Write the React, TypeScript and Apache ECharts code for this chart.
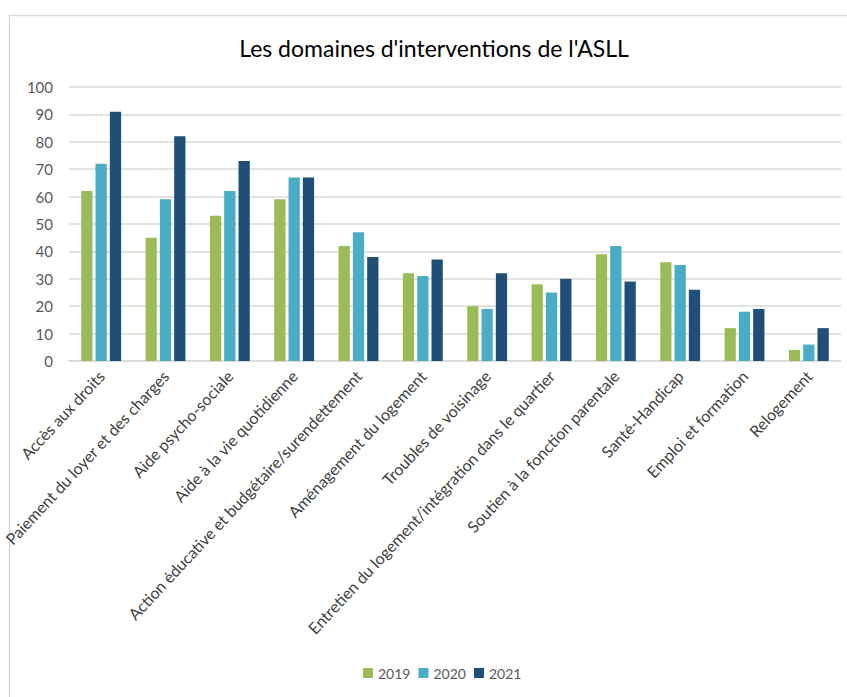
import React, { useEffect, useRef } from "react";
import * as echarts from "echarts";

const categories = [
  "Accès aux droits",
  "Paiement du loyer et des charges",
  "Aide psycho-sociale",
  "Aide à la vie quotidienne",
  "Action éducative et budgétaire/surendettement",
  "Aménagement du logement",
  "Troubles de voisinage",
  "Entretien du logement/intégration dans le quartier",
  "Soutien à la fonction parentale",
  "Santé-Handicap",
  "Emploi et formation",
  "Relogement",
];
const values2019 = [62, 45, 53, 59, 42, 32, 20, 28, 39, 36, 12, 4];
const values2020 = [72, 59, 62, 67, 47, 31, 19, 25, 42, 35, 18, 6];
const values2021 = [91, 82, 73, 67, 38, 37, 32, 30, 29, 26, 19, 12];
const seriesNames = ["2019", "2020", "2021"];
const colors = ["#9BBB59", "#4BACC6", "#1F4E79"];

export default function App() {
  const ref = useRef<HTMLDivElement>(null);
  useEffect(() => {
    if (!ref.current) return;
    const chart = echarts.init(ref.current, undefined, { renderer: "svg" });
    const font = "Lato, 'Open Sans', sans-serif";
    const data = [values2019, values2020, values2021];
    chart.setOption({
      animation: false,
      backgroundColor: "#ffffff",
      color: colors,
      title: {
        text: "Les domaines d'interventions de l'ASLL",
        left: 429,
        textAlign: "center",
        top: 31,
        textStyle: { fontFamily: font, fontSize: 23, fontWeight: "normal", color: "#000000" },
      },
      graphic: [
        {
          type: "rect",
          shape: { x: 9.5, y: 15.5, width: 900, height: 800 },
          style: { fill: "none", stroke: "#d9d9d9", lineWidth: 1.5 },
          silent: true,
        },
      ],
      legend: {
        data: seriesNames,
        left: 358,
        top: 661,
        itemWidth: 10,
        itemHeight: 10,
        itemGap: 8,
        icon: "rect",
        textStyle: { fontFamily: font, fontSize: 14, color: "#595959" },
      },
      grid: { left: 67, right: 6, top: 87, bottom: 336, containLabel: false },
      xAxis: {
        type: "category",
        data: categories,
        axisTick: { show: false },
        axisLine: { lineStyle: { color: "#d9d9d9", width: 1.5 } },
        axisLabel: {
          interval: 0,
          rotate: 47,
          margin: 12,
          fontFamily: font,
          fontSize: 16,
          color: "#404040",
        },
      },
      yAxis: {
        type: "value",
        min: 0,
        max: 100,
        interval: 10,
        axisLine: { show: false },
        axisTick: { show: false },
        splitLine: { lineStyle: { color: "#d9d9d9", width: 1.5 } },
        axisLabel: { margin: 16, fontFamily: font, fontSize: 15, color: "#595959" },
      },
      series: seriesNames.map((name, i) => ({
        name,
        type: "bar",
        data: data[i],
        barGap: "27%",
        barCategoryGap: "38%",
        itemStyle: { color: colors[i] },
      })),
    });
    return () => chart.dispose();
  }, []);
  return (
    <div
      ref={ref}
      style={{ position: "fixed", left: 0, top: 0, width: 847, height: 697 }}
    />
  );
}
